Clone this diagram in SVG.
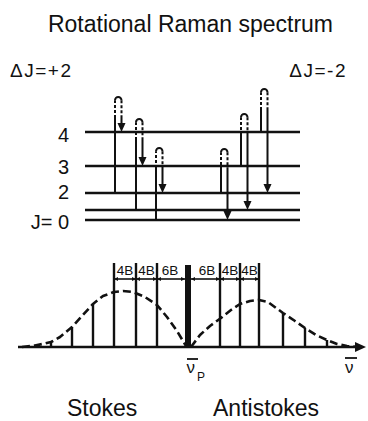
<svg xmlns="http://www.w3.org/2000/svg" width="368" height="421" viewBox="0 0 368 421">
<style>
text{font-family:"Liberation Sans","DejaVu Sans",sans-serif;fill:#111}
.lvl{stroke:#111;stroke-width:2.4;fill:none}
.sol{stroke:#111;stroke-width:2;fill:none}
.dsh{stroke:#111;stroke-width:2;fill:none;stroke-dasharray:3 2}
.ah{fill:#111}
.ln{stroke:#111;stroke-width:2.4}
.env{stroke:#111;stroke-width:2.6;fill:none;stroke-dasharray:8 4;stroke-linejoin:round}
.dim{stroke:#111;stroke-width:1.6;marker-start:url(#da);marker-end:url(#da)}
.big{font-size:23px}
.lab{font-size:20px}
.dj{font-size:19px;letter-spacing:1.5px}
.bl{font-size:13.5px}
</style>
<defs>
<marker id="da" viewBox="0 0 6 6" refX="6" refY="3" markerWidth="4" markerHeight="4" orient="auto-start-reverse" markerUnits="userSpaceOnUse">
<path d="M0,0 L6,3 L0,6 z" fill="#111"/>
</marker>
</defs>
<rect width="368" height="421" fill="#fff"/>
<text class="big" x="190.5" y="32" text-anchor="middle">Rotational Raman spectrum</text>
<text class="dj" x="10" y="77">ΔJ=+2</text>
<text class="dj" x="347" y="77" text-anchor="end">ΔJ=-2</text>

<g id="levels">
<g id="level-4"><line class="lvl" x1="85" y1="132" x2="300" y2="132"/><text class="lab" x="69" y="142" text-anchor="end">4</text></g>
<g id="level-3"><line class="lvl" x1="85" y1="166" x2="300" y2="166"/><text class="lab" x="69" y="174" text-anchor="end">3</text></g>
<g id="level-2"><line class="lvl" x1="85" y1="193" x2="300" y2="193"/><text class="lab" x="69" y="199" text-anchor="end">2</text></g>
<g id="level-1"><line class="lvl" x1="85" y1="210" x2="300" y2="210"/></g>
<g id="level-0"><line class="lvl" x1="85" y1="220" x2="300" y2="220"/><text class="lab" x="69" y="229" text-anchor="end">J= 0</text></g>
</g>

<g id="transitions">
<g id="s-2-4">
<path class="sol" d="M115,193 V118 M121.5,118 V124"/>
<path class="dsh" d="M115,118 V100.25"/><path class="sol" d="M115,100.25 A3.25,3.25 0 0 1 121.5,100.25"/><path class="dsh" d="M121.5,100.25 V118"/>
<polygon class="ah" points="121.5,132 117.5,123 125.5,123"/>
</g>
<g id="s-1-3">
<path class="sol" d="M136,210 V140 M142.5,140 V158"/>
<path class="dsh" d="M136,140 V122.25"/><path class="sol" d="M136,122.25 A3.25,3.25 0 0 1 142.5,122.25"/><path class="dsh" d="M142.5,122.25 V140"/>
<polygon class="ah" points="142.5,166 138.5,157 146.5,157"/>
</g>
<g id="s-0-2">
<path class="sol" d="M156,220 V168 M162.5,168 V185"/>
<path class="dsh" d="M156,168 V151.25"/><path class="sol" d="M156,151.25 A3.25,3.25 0 0 1 162.5,151.25"/><path class="dsh" d="M162.5,151.25 V168"/>
<polygon class="ah" points="162.5,193 158.5,184 166.5,184"/>
</g>
<g id="a-2-0">
<path class="sol" d="M221,193 V170 M227.5,170 V212"/>
<path class="dsh" d="M221,170 V152.25"/><path class="sol" d="M221,152.25 A3.25,3.25 0 0 1 227.5,152.25"/><path class="dsh" d="M227.5,152.25 V170"/>
<polygon class="ah" points="227.5,220 223.5,211 231.5,211"/>
</g>
<g id="a-3-1">
<path class="sol" d="M241,166 V135 M247.5,135 V202"/>
<path class="dsh" d="M241,135 V117.25"/><path class="sol" d="M241,117.25 A3.25,3.25 0 0 1 247.5,117.25"/><path class="dsh" d="M247.5,117.25 V135"/>
<polygon class="ah" points="247.5,210 243.5,201 251.5,201"/>
</g>
<g id="a-4-2">
<path class="sol" d="M261,132 V110 M267.5,110 V185"/>
<path class="dsh" d="M261,110 V92.25"/><path class="sol" d="M261,92.25 A3.25,3.25 0 0 1 267.5,92.25"/><path class="dsh" d="M267.5,92.25 V110"/>
<polygon class="ah" points="267.5,193 263.5,184 271.5,184"/>
</g>
</g>

<g id="spectrum">
<g id="axis">
<line x1="18" y1="347" x2="357" y2="347" stroke="#111" stroke-width="2.4"/>
<polygon class="ah" points="366,347 355,342 355,352"/>
</g>
<g id="stokes-lines">
<line class="ln" x1="157" y1="263" x2="157" y2="347"/>
<line class="ln" x1="136" y1="263" x2="136" y2="347"/>
<line class="ln" x1="114" y1="263" x2="114" y2="347"/>
<line class="ln" x1="93" y1="304" x2="93" y2="347"/>
<line class="ln" x1="72" y1="327" x2="72" y2="347"/>
<line class="ln" x1="51" y1="342" x2="51" y2="347"/>
</g>
<g id="antistokes-lines">
<line class="ln" x1="220" y1="263" x2="220" y2="347"/>
<line class="ln" x1="240" y1="263" x2="240" y2="347"/>
<line class="ln" x1="259" y1="263" x2="259" y2="347"/>
<line class="ln" x1="283" y1="313" x2="283" y2="347"/>
<line class="ln" x1="305" y1="328" x2="305" y2="347"/>
<line class="ln" x1="327" y1="340" x2="327" y2="347"/>
</g>
<g id="rayleigh"><rect x="185" y="265" width="6" height="82" fill="#111"/></g>
<g id="envelopes">
<polyline class="env" points="22,347 35,345.5 45,343.5 51,342 60,337 72,327 82,316 93,304 103,296 114,292 123,291 133,292 145,297 157,305 167,317 177,331 186,346"/>
<polyline class="env" points="191,347 200,335 210,326 221,318 231,310 240,304 250,301 259,300 268,302 283,313 295,321 305,328 316,335 327,340 337,344 347,346 358,347"/>
</g>
<g id="dimensions">
<line class="dim" x1="114" y1="279" x2="136" y2="279"/>
<line class="dim" x1="136" y1="279" x2="157" y2="279"/>
<line class="dim" x1="157" y1="279" x2="185" y2="279"/>
<line class="dim" x1="191" y1="279" x2="220" y2="279"/>
<line class="dim" x1="220" y1="279" x2="240" y2="279"/>
<line class="dim" x1="240" y1="279" x2="259" y2="279"/>
<text class="bl" x="125" y="275" text-anchor="middle">4B</text>
<text class="bl" x="146.5" y="275" text-anchor="middle">4B</text>
<text class="bl" x="170" y="275" text-anchor="middle">6B</text>
<text class="bl" x="207" y="275" text-anchor="middle">6B</text>
<text class="bl" x="230" y="275" text-anchor="middle">4B</text>
<text class="bl" x="249.5" y="275" text-anchor="middle">4B</text>
</g>
<g id="nu-p">
<line x1="187" y1="359" x2="198" y2="359" stroke="#111" stroke-width="1.8"/>
<text x="186.5" y="373" font-size="17">ν</text>
<text x="197" y="381" font-size="12">P</text>
</g>
<g id="nu">
<line x1="345" y1="358" x2="357" y2="358" stroke="#111" stroke-width="1.8"/>
<text x="345" y="373" font-size="17">ν</text>
</g>
<text class="big" x="67" y="416">Stokes</text>
<text class="big" x="213" y="416">Antistokes</text>
</g>
</svg>
